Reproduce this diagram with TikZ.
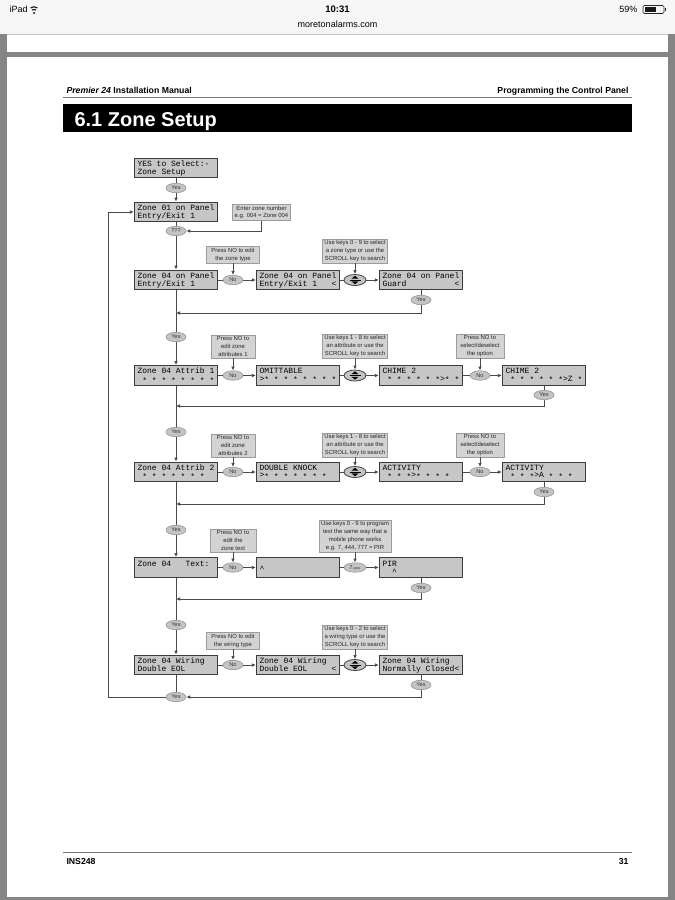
\documentclass[tikz,border=0pt]{standalone}
\usepackage{fontspec}
\setmainfont{Liberation Sans}
\newfontfamily\lcdf{Liberation Mono}
\usetikzlibrary{shapes.geometric,arrows.meta}
\definecolor{lcdfill}{HTML}{C6C6C6}
\definecolor{lcdbd}{HTML}{3C3C3C}
\definecolor{notefill}{HTML}{D3D3D3}
\definecolor{notebd}{HTML}{9C9C9C}
\definecolor{ovfill}{HTML}{C4C4C4}
\definecolor{ovbd}{HTML}{8C8C8C}
\definecolor{conc}{HTML}{4A4A4A}
\definecolor{framec}{HTML}{858585}
\definecolor{barbg}{HTML}{F6F6F6}
\definecolor{barline}{HTML}{C4C4C4}
\newcommand{\lcdsetup}{\fontsize{8}{7.9}\lcdf\def~{\hphantom{0}}}
\newcommand{\st}{\raisebox{-1.4pt}{*}}
\tikzset{
  lcd/.style={draw=lcdbd, fill=lcdfill, line width=1.2pt, minimum width=83pt, minimum height=19.5pt,
    inner xsep=3pt, inner ysep=0pt, text width=77pt, align=left, font=\lcdsetup},
  ov/.style={ellipse, draw=ovbd, fill=ovfill, line width=0.5pt, minimum width=20pt, minimum height=9.5pt,
    inner sep=0pt, font=\fontsize{5.6}{5.6}\selectfont, text=black!80},
  sc/.style={ov, minimum width=22pt, minimum height=11pt, draw=black!75, line width=0.8pt},
  note/.style={draw=notebd, fill=notefill, line width=0.5pt, font=\fontsize{5.9}{7.8}\selectfont,
    align=center, inner xsep=2pt, inner ysep=1.4pt, anchor=south, text=black!85},
  con/.style={draw=conc, line width=0.8pt},
  arr/.style={con, -{Latex[length=4pt,width=3.6pt]}},
  hdr/.style={font=\bfseries\fontsize{8.7}{9}\selectfont},
  stat/.style={font=\fontsize{9}{9}\selectfont},
}
\newcommand{\scrollsym}[1]{%
  \fill[black, shift={(#1)}] (-3.6,-1.3) -- (3.6,-1.3) -- (0,-4.2) -- cycle;
  \fill[black, shift={(#1)}] (-3.6,1.3) -- (3.6,1.3) -- (0,4.2) -- cycle;
  \draw[black, line width=0.5pt, shift={(#1)}] (-5.5,0) -- (5.5,0);}
\begin{document}
\begin{tikzpicture}[x=1pt,y=-1pt]
\useasboundingbox (0,0) rectangle (675,900);
\fill[white] (0,0) rectangle (675,900);
% ---------- status bar ----------
\fill[barbg] (0,0) rectangle (675,34);
\draw[barline, line width=0.6pt] (0,34) -- (675,34);
\node[stat, anchor=west] (ipad) at (6,9.5) {iPad};
\coordinate (wifi) at (34,13);
\fill[black!85] (wifi) circle (1.1);
\foreach \r in {3.6,6.2} {\draw[black!85, line width=1.2pt] (wifi) ++(235:\r) arc[start angle=235, end angle=305, radius=\r];}
\node[stat, font=\bfseries\fontsize{9.5}{9.5}\selectfont] (time) at (337.5,9.5) {10:31};
\node[stat] (url) at (337.5,24) {moretonalarms.com};
\node[stat, anchor=east] (pct) at (641,9.5) {59\%};
\draw[black!85, line width=0.6pt, rounded corners=1.2pt] (643,5.5) rectangle (664,13.5);
\fill[black!90] (644.6,7) rectangle (656,12);
\fill[black!85] (664.6,8) rectangle (666,11);
% ---------- page frame ----------
\fill[framec] (0,34.3) rectangle (7,900);
\fill[framec] (668,34.3) rectangle (675,900);
\fill[framec] (0,52) rectangle (675,57);
\fill[framec] (0,897) rectangle (675,900);
% ---------- header ----------
\node[hdr, anchor=base west] (hl) at (63,93) {\textit{Premier 24} Installation Manual};
\node[hdr, anchor=base east] (hr) at (632,93) {Programming the Control Panel};
\draw[black!55, line width=0.9pt] (63,97) -- (632,97);
\fill[black] (63,104) rectangle (632,132);
\node[anchor=base west, text=white, font=\bfseries\fontsize{20}{20}\selectfont] (title) at (71,126) {6.1 Zone Setup};
% ---------- footer ----------
\draw[black!55, line width=0.9pt] (63,852) -- (632,852);
\node[hdr, anchor=base west] (fl) at (63,864) {INS248};
\node[hdr, anchor=base east] (fr) at (632,864) {31};
% ---------- flowchart: top ----------
\node[lcd] (A) at (176,168) {YES~to~Select:-\\Zone~Setup};
\node[ov] (yA) at (176,188) {Yes};
\node[lcd] (B) at (176,212) {Zone~01~on~Panel\\Entry/Exit~1};
\node[ov] (q) at (176,231) {???};
\node[note, anchor=center] (nB) at (261.5,212.5) {Enter zone number\\e.g. 004 = Zone 004};
\draw[con] (A) -- (yA);
\draw[arr] (yA) -- (B);
\draw[con] (B) -- (q);
\draw[arr] (nB.south) |- (q.east);
% ---------- row 1 ----------
\node[lcd] (C1) at (176,280) {Zone~04~on~Panel\\Entry/Exit~1};
\node[ov] (no1) at (233,280) {No};
\node[lcd] (C2) at (298,280) {Zone~04~on~Panel\\Entry/Exit~1~~~<};
\node[sc] (s1) at (355,280) {};
\scrollsym{s1}
\node[lcd] (C3) at (421,280) {Zone~04~on~Panel\\Guard~~~~~~~~~~<};
\node[ov] (y1) at (421,300) {Yes};
\coordinate (j1) at (176,313);
\node[note, minimum width=53pt] (n11) at (233,263) {Press NO to edit\\the zone type};
\node[note] (n12) at (355,263) {Use keys 0 - 9 to select\\a zone type or use the\\SCROLL key to search};
\draw[arr] (q) -- (C1);
\draw[con] (C1) -- (no1);
\draw[arr] (no1) -- (C2);
\draw[con] (C2) -- (s1);
\draw[arr] (s1) -- (C3);
\draw[arr] (n11) -- (no1);
\draw[arr] (n12) -- (s1);
\draw[con] (C3) -- (y1);
\draw[arr] (y1.south) |- (j1);
% ---------- row 2 ----------
\node[ov] (ym2) at (176,337) {Yes};
\node[lcd] (R2a) at (176,375.5) {Zone~04~Attrib~1\\~\st~\st~\st~\st~\st~\st~\st~\st};
\node[ov] (no2a) at (233,375.5) {No};
\node[lcd] (R2b) at (298,375.5) {OMITTABLE\\>\st~\st~\st~\st~\st~\st~\st~\st};
\node[sc] (s2) at (355,375.5) {};
\scrollsym{s2}
\node[lcd] (R2c) at (421,375.5) {CHIME~2\\~\st~\st~\st~\st~\st~\st>\st~\st};
\node[ov] (no2b) at (480,375.5) {No};
\node[lcd] (R2d) at (544,375.5) {CHIME~2\\~\st~\st~\st~\st~\st~\st>Z~\st};
\node[ov] (y2) at (544,395) {Yes};
\coordinate (j2) at (176,406);
\node[note, minimum width=44pt] (n21) at (233,358) {Press NO to\\edit zone\\attributes 1};
\node[note] (n22) at (355,358) {Use keys 1 - 8 to select\\an attribute or use the\\SCROLL key to search};
\node[note, minimum width=48pt] (n23) at (480,358) {Press NO to\\select/deselect\\the option};
\draw[con] (C1) -- (ym2);
\draw[arr] (ym2) -- (R2a);
\draw[con] (R2a) -- (no2a);
\draw[arr] (no2a) -- (R2b);
\draw[con] (R2b) -- (s2);
\draw[arr] (s2) -- (R2c);
\draw[con] (R2c) -- (no2b);
\draw[arr] (no2b) -- (R2d);
\draw[arr] (n21) -- (no2a);
\draw[arr] (n22) -- (s2);
\draw[arr] (n23) -- (no2b);
\draw[con] (R2d) -- (y2);
\draw[arr] (y2.south) |- (j2);
% ---------- row 3 ----------
\node[ov] (ym3) at (176,432) {Yes};
\node[lcd] (R3a) at (176,472) {Zone~04~Attrib~2\\~\st~\st~\st~\st~\st~\st~\st};
\node[ov] (no3a) at (233,472) {No};
\node[lcd] (R3b) at (298,472) {DOUBLE~KNOCK\\>\st~\st~\st~\st~\st~\st~\st};
\node[sc] (s3) at (355,472) {};
\scrollsym{s3}
\node[lcd] (R3c) at (421,472) {ACTIVITY\\~\st~\st~\st>\st~\st~\st~\st};
\node[ov] (no3b) at (480,472) {No};
\node[lcd] (R3d) at (544,472) {ACTIVITY\\~\st~\st~\st>A~\st~\st~\st};
\node[ov] (y3) at (544,492) {Yes};
\coordinate (j3) at (176,504);
\node[note, minimum width=44pt] (n31) at (233,457) {Press NO to\\edit zone\\attributes 2};
\node[note] (n32) at (355,457) {Use keys 1 - 8 to select\\an attribute or use the\\SCROLL key to search};
\node[note, minimum width=48pt] (n33) at (480,457) {Press NO to\\select/deselect\\the option};
\draw[con] (R2a) -- (ym3);
\draw[arr] (ym3) -- (R3a);
\draw[con] (R3a) -- (no3a);
\draw[arr] (no3a) -- (R3b);
\draw[con] (R3b) -- (s3);
\draw[arr] (s3) -- (R3c);
\draw[con] (R3c) -- (no3b);
\draw[arr] (no3b) -- (R3d);
\draw[arr] (n31) -- (no3a);
\draw[arr] (n32) -- (s3);
\draw[arr] (n33) -- (no3b);
\draw[con] (R3d) -- (y3);
\draw[arr] (y3.south) |- (j3);
% ---------- row 4 ----------
\node[ov] (ym4) at (176,530) {Yes};
\node[lcd] (R4a) at (176,567.5) {Zone~04~~~Text:\\~};
\node[ov] (no4) at (233,567.5) {No};
\node[lcd] (R4b) at (298,567.5) {~\\\textasciicircum};
\node[ov, minimum width=22pt] (k4) at (355,567.5) {7\,{\fontsize{3.6}{4}\selectfont pqrs}};
\node[lcd] (R4c) at (421,567.5) {PIR\\~~\textasciicircum};
\node[ov] (y4) at (421,588) {Yes};
\coordinate (j4) at (176,599);
\node[note, minimum width=46pt] (n41) at (233,552) {Press NO to\\edit the\\zone text};
\node[note] (n42) at (355,552) {Use keys 0 - 9 to program\\text the same way that a\\mobile phone works\\e.g. 7, 444, 777 = PIR};
\draw[con] (R3a) -- (ym4);
\draw[arr] (ym4) -- (R4a);
\draw[con] (R4a) -- (no4);
\draw[arr] (no4) -- (R4b);
\draw[con] (R4b) -- (k4);
\draw[arr] (k4) -- (R4c);
\draw[arr] (n41) -- (no4);
\draw[arr] (n42) -- (k4);
\draw[con] (R4c) -- (y4);
\draw[arr] (y4.south) |- (j4);
% ---------- row 5 ----------
\node[ov] (ym5) at (176,625) {Yes};
\node[lcd] (R5a) at (176,665) {Zone~04~Wiring\\Double~EOL};
\node[ov] (no5) at (233,665) {No};
\node[lcd] (R5b) at (298,665) {Zone~04~Wiring\\Double~EOL~~~~~<};
\node[sc] (s5) at (355,665) {};
\scrollsym{s5}
\node[lcd] (R5c) at (421,665) {Zone~04~Wiring\\Normally~Closed<};
\node[ov] (y5) at (421,685) {Yes};
\node[ov] (yb) at (176,697) {Yes};
\coordinate (lp) at (108,697);
\node[note, minimum width=53pt] (n51) at (233,649) {Press NO to edit\\the wiring type};
\node[note] (n52) at (355,649) {Use keys 0 - 2 to select\\a wiring type or use the\\SCROLL key to search};
\draw[con] (R4a) -- (ym5);
\draw[arr] (ym5) -- (R5a);
\draw[con] (R5a) -- (no5);
\draw[arr] (no5) -- (R5b);
\draw[con] (R5b) -- (s5);
\draw[arr] (s5) -- (R5c);
\draw[arr] (n51) -- (no5);
\draw[arr] (n52) -- (s5);
\draw[con] (R5c) -- (y5);
\draw[arr] (y5.south) |- (yb.east);
\draw[con] (R5a) -- (yb);
\draw[arr] (yb.west) -- (lp) |- (B.west);
\end{tikzpicture}
\end{document}
